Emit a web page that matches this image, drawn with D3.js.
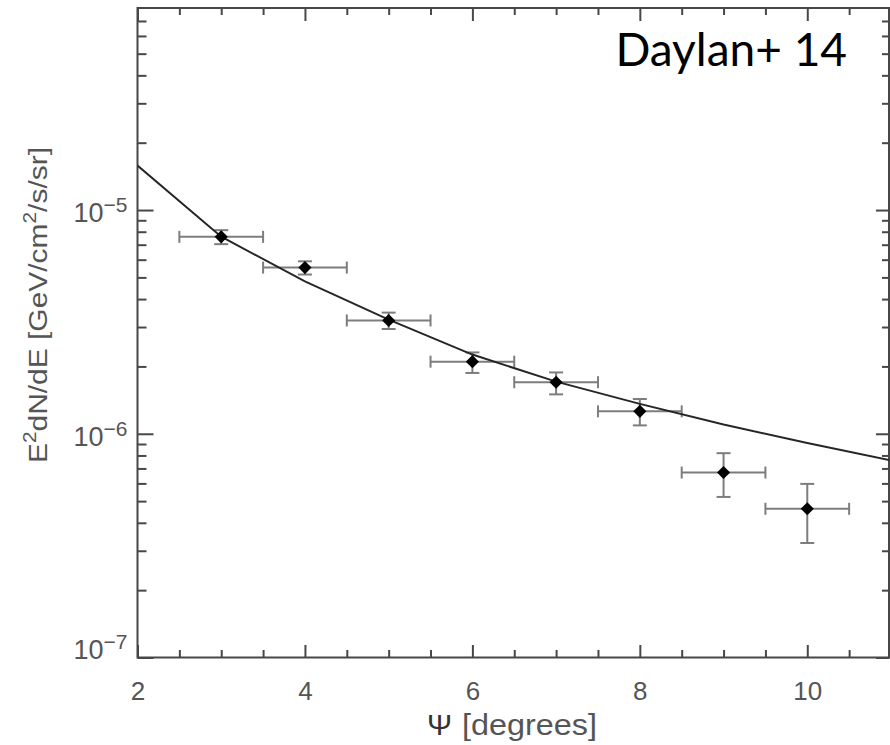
<!DOCTYPE html>
<html>
<head>
<meta charset="utf-8">
<script src="https://cdn.jsdelivr.net/npm/d3@7"></script>
<style>
  html, body { margin: 0; padding: 0; background: #fff; }
  svg { display: block; }
</style>
</head>
<body>
<svg id="chart" width="890" height="745"></svg>
<script>
// ---- data ----
const psi       = [3, 4, 5, 6, 7, 8, 9, 10];
const psiHalf   = [0.5, 0.5, 0.5, 0.5, 0.5, 0.5, 0.5, 0.5];
const flux      = [7.59e-6, 5.53e-6, 3.21e-6, 2.10e-6, 1.70e-6, 1.26e-6, 6.71e-7, 4.62e-7];
const fluxHi    = [8.13e-6, 5.90e-6, 3.48e-6, 2.31e-6, 1.88e-6, 1.43e-6, 8.19e-7, 5.97e-7];
const fluxLo    = [7.04e-6, 5.15e-6, 2.94e-6, 1.87e-6, 1.50e-6, 1.09e-6, 5.22e-7, 3.25e-7];

const modelPsi  = [2, 3, 4, 5, 6, 7, 8, 9, 10, 11];
const modelFlux = [1.58e-5, 7.6e-6, 4.8e-6, 3.24e-6, 2.26e-6, 1.71e-6, 1.36e-6, 1.10e-6, 9.1e-7, 7.6e-7];

const xTickValues = [2, 4, 6, 8, 10];
const xTickLabels = ["2", "4", "6", "8", "10"];
const yTickValues = [1e-7, 1e-6, 1e-5];
const yTickExponents = ["\u22127", "\u22126", "\u22125"];

const xTitleSymbol = "\u03A8";
const xTitleText = "[degrees]";
const annotation = "Daylan+ 14";

// ---- layout ----
const svg = d3.select("#chart");
const L = 137.5, R = 891, T = 8, B = 657.5;
const frameRight = 889;

const x = d3.scaleLinear().domain([2, 11]).range([L, R]);
const y = d3.scaleLog().domain([1e-7, 8e-5]).range([B, T]);

const axisColor = "#474747";
const textColor = "#555";
const tickFont = "'Liberation Sans', Arial, sans-serif";

const xMinor = d3.range(2.5, 11, 0.5).filter(v => !xTickValues.includes(v));
const yMinor = [];
[1e-7, 1e-6, 1e-5].forEach(d => { for (let k = 2; k <= 9; k++) { const v = d * k; if (v < 7.9e-5) yMinor.push(v); } });

function styleAxis(g) {
  g.select(".domain").remove();
  g.selectAll(".tick line").attr("stroke", axisColor).attr("stroke-width", 2);
}

// bottom axis: majors with labels
const gxb = svg.append("g").attr("transform", `translate(0,${B})`)
  .call(d3.axisBottom(x).tickValues(xTickValues).tickSize(-12.5).tickPadding(24.5)
        .tickFormat((d, i) => xTickLabels[i]));
styleAxis(gxb);
gxb.selectAll(".tick text").attr("font-family", tickFont).attr("font-size", 26).attr("fill", textColor);
const gxbm = svg.append("g").attr("transform", `translate(0,${B})`)
  .call(d3.axisBottom(x).tickValues(xMinor).tickSize(-7.5).tickFormat(""));
styleAxis(gxbm);
// top axis
const gxt = svg.append("g").attr("transform", `translate(0,${T})`)
  .call(d3.axisTop(x).tickValues(xTickValues).tickSize(-13).tickFormat(""));
styleAxis(gxt);
const gxtm = svg.append("g").attr("transform", `translate(0,${T})`)
  .call(d3.axisTop(x).tickValues(xMinor).tickSize(-7).tickFormat(""));
styleAxis(gxtm);

// left axis
const gyl = svg.append("g").attr("transform", `translate(${L},0)`)
  .call(d3.axisLeft(y).tickValues(yTickValues).tickSize(-16).tickFormat(""));
styleAxis(gyl);
const gylm = svg.append("g").attr("transform", `translate(${L},0)`)
  .call(d3.axisLeft(y).tickValues(yMinor).tickSize(-9).tickFormat(""));
styleAxis(gylm);
// right axis
const gyr = svg.append("g").attr("transform", `translate(${frameRight},0)`)
  .call(d3.axisRight(y).tickValues(yTickValues).tickSize(-13).tickFormat(""));
styleAxis(gyr);
const gyrm = svg.append("g").attr("transform", `translate(${frameRight},0)`)
  .call(d3.axisRight(y).tickValues(yMinor).tickSize(-7).tickFormat(""));
styleAxis(gyrm);

// y tick labels 10^n
gyl.selectAll(".tick").each(function (d, i) {
  const lowest = (i === 0); // lowest label is lifted off the corner
  const t = d3.select(this).append("text")
    .attr("x", -10).attr("y", lowest ? 0.5 : 11.5)
    .attr("text-anchor", "end")
    .attr("font-family", tickFont).attr("fill", textColor)
    .attr("font-size", 27);
  t.append("tspan").text("10");
  t.append("tspan").attr("font-size", 21).attr("dy", -10).text(yTickExponents[i]);
});

// frame
svg.append("path")
  .attr("d", `M${L},${T}H${frameRight}V${B}H${L}Z`)
  .attr("fill", "none").attr("stroke", axisColor).attr("stroke-width", 2);

// plot content
const plot = svg.append("g");
const errColor = "#7d7d7d";
const pts = psi.map((p, i) => ({ p, h: psiHalf[i], f: flux[i], hi: fluxHi[i], lo: fluxLo[i] }));

const eb = plot.append("g").attr("stroke", errColor).attr("stroke-width", 2).attr("fill", "none");
pts.forEach(d => {
  const cx = x(d.p), cy = y(d.f);
  const x0 = x(d.p - d.h), x1 = x(d.p + d.h);
  eb.append("line").attr("x1", x0).attr("x2", x1).attr("y1", cy).attr("y2", cy);
  eb.append("line").attr("x1", x0).attr("x2", x0).attr("y1", cy - 6).attr("y2", cy + 6);
  eb.append("line").attr("x1", x1).attr("x2", x1).attr("y1", cy - 6).attr("y2", cy + 6);
  eb.append("line").attr("x1", cx).attr("x2", cx).attr("y1", y(d.hi)).attr("y2", y(d.lo));
  eb.append("line").attr("x1", cx - 7).attr("x2", cx + 7).attr("y1", y(d.hi)).attr("y2", y(d.hi));
  eb.append("line").attr("x1", cx - 7).attr("x2", cx + 7).attr("y1", y(d.lo)).attr("y2", y(d.lo));
});

svg.append("clipPath").attr("id", "clip").append("rect")
  .attr("x", L).attr("y", T).attr("width", frameRight - L).attr("height", B - T);

const line = d3.line().x((d, i) => x(modelPsi[i])).y(d => y(d));
plot.append("path").datum(modelFlux)
  .attr("clip-path", "url(#clip)")
  .attr("d", line).attr("fill", "none").attr("stroke", "#262626").attr("stroke-width", 2);

const diamond = d3.symbol().type(d3.symbolDiamond2).size(110);
plot.selectAll("path.pt").data(pts).join("path").attr("class", "pt")
  .attr("transform", d => `translate(${x(d.p)},${y(d.f)})`)
  .attr("d", diamond).attr("fill", "#000");

// axis titles
svg.append("text")
  .attr("x", 427).attr("y", 735)
  .attr("font-family", tickFont).attr("font-size", 30).attr("fill", "#333")
  .text(xTitleSymbol);
svg.append("text")
  .attr("x", 462).attr("y", 735)
  .attr("font-family", tickFont).attr("font-size", 30).attr("fill", textColor)
  .attr("textLength", 135).attr("lengthAdjust", "spacingAndGlyphs")
  .text(xTitleText);

const yt = svg.append("text")
  .attr("transform", "translate(46.5,463) rotate(-90)")
  .attr("font-family", tickFont).attr("font-size", 26).attr("fill", textColor)
  .attr("textLength", 316).attr("lengthAdjust", "spacingAndGlyphs");
yt.append("tspan").text("E");
yt.append("tspan").attr("font-size", 18).attr("dy", -11).text("2");
yt.append("tspan").attr("dy", 11).text("dN/dE [GeV/cm");
yt.append("tspan").attr("font-size", 18).attr("dy", -11).text("2");
yt.append("tspan").attr("dy", 11).text("/s/sr]");

// annotation
svg.append("text")
  .attr("x", 847).attr("y", 66).attr("text-anchor", "end")
  .attr("font-family", "Lato, 'Open Sans', sans-serif").attr("font-size", 46).attr("fill", "#000")
  .text(annotation);
</script>
</body>
</html>
